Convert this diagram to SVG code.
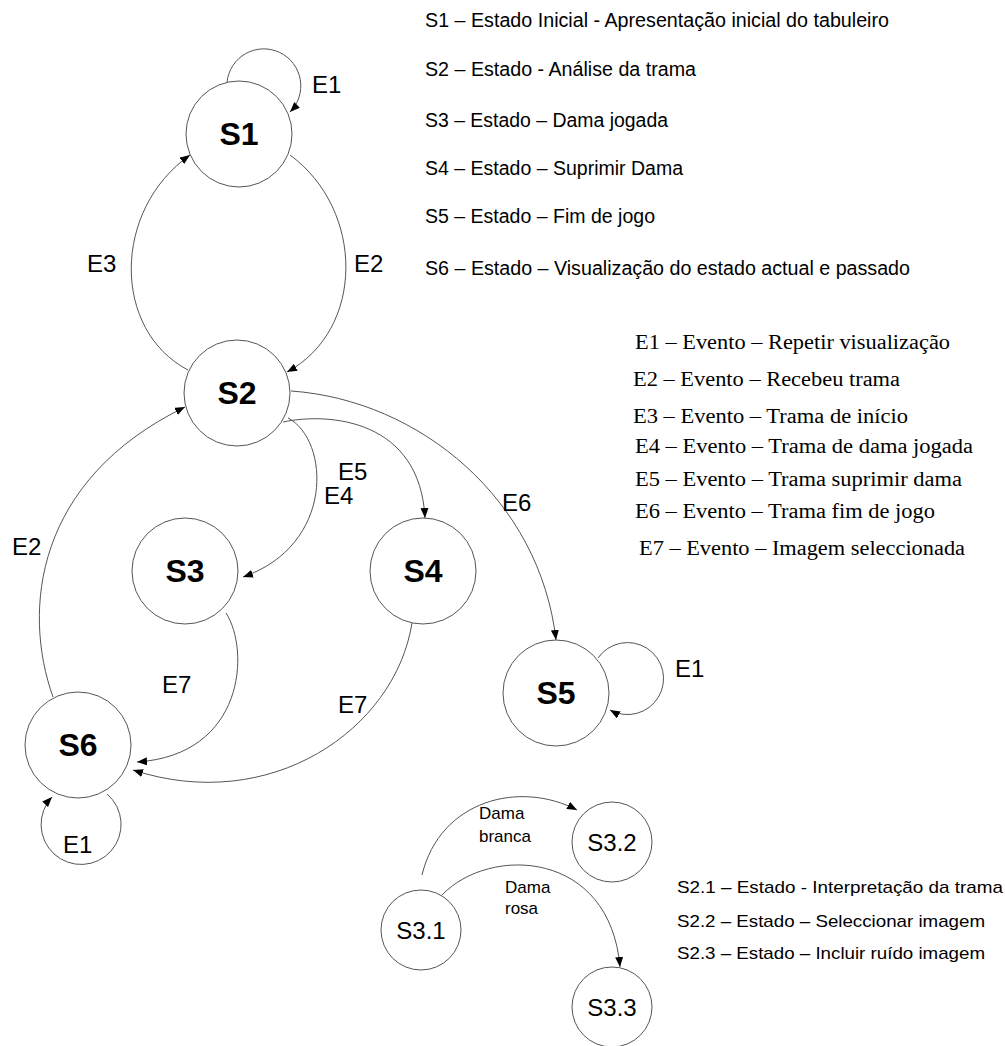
<svg xmlns="http://www.w3.org/2000/svg" width="1005" height="1046" viewBox="0 0 1005 1046">
<style>
.st{fill:#fff;stroke:#555;stroke-width:1}
.sl{font-family:"Liberation Sans",Arial,sans-serif;font-size:32px;font-weight:bold;fill:#000;text-anchor:middle}
.ss{font-family:"Liberation Sans",Arial,sans-serif;font-size:24px;fill:#000;text-anchor:middle}
.el{font-family:"Liberation Sans",Arial,sans-serif;font-size:24px;fill:#000}
.sm{font-family:"Liberation Sans",Arial,sans-serif;font-size:17px;fill:#000}
.lg{font-family:"Liberation Sans",Arial,sans-serif;font-size:19.5px;fill:#000}
.ev{font-family:"Liberation Serif","Times New Roman",serif;font-size:20px;fill:#000}
.lb{font-family:"Liberation Sans",Arial,sans-serif;font-size:17px;fill:#000}
.c{fill:none;stroke:#555;stroke-width:1;marker-end:url(#ah)}
</style>
<defs>
<marker id="ah" markerUnits="userSpaceOnUse" markerWidth="10" markerHeight="8" refX="10" refY="4" orient="auto">
<path d="M0,0 L10,4 L0,8 z" fill="#000"/>
</marker>
</defs>
<g id="connectors">
<path class="c" d="M227,82 A37,37 0 1 1 290,112"/>
<path class="c" d="M290,155 C365,210 365,330 287,372"/>
<path class="c" d="M188,370 C112,330 112,210 190,155"/>
<path class="c" d="M291,391 C420,400 540,500 556,640"/>
<path class="c" d="M283,422 C330,412 420,420 425,518"/>
<path class="c" d="M288,418 C330,440 335,545 243,577"/>
<path class="c" d="M53,697 C22,610 35,480 185,407"/>
<path class="c" d="M226,613 C250,650 245,755 137,762"/>
<path class="c" d="M412,623 C395,730 270,815 133,770"/>
<path class="c" d="M107,794 A40,40 0 1 1 52,797"/>
<path class="c" d="M598,658 A36,36 0 1 1 610,710"/>
<path class="c" d="M422,875 C440,800 520,780 577,810"/>
<path class="c" d="M442,895 C490,845 610,850 620,967"/>
<text class="el" x="312" y="93">E1</text>
<text class="el" x="354" y="272">E2</text>
<text class="el" x="87" y="272">E3</text>
<text class="el" x="338" y="480">E5</text>
<text class="el" x="324" y="504">E4</text>
<text class="el" x="502" y="511">E6</text>
<text class="el" x="12" y="555">E2</text>
<text class="el" x="162" y="693">E7</text>
<text class="el" x="338" y="713">E7</text>
<text class="el" x="675" y="677">E1</text>
<text class="el" x="63" y="853">E1</text>
<text class="sm" x="479" y="819">Dama</text>
<text class="sm" x="479" y="842">branca</text>
<text class="sm" x="505" y="893">Dama</text>
<text class="sm" x="505" y="914">rosa</text>
</g>
<g id="S1"><circle class="st" cx="239" cy="134" r="53"/><text class="sl" x="239" y="145">S1</text></g>
<g id="S2"><circle class="st" cx="237" cy="393" r="53"/><text class="sl" x="237" y="404">S2</text></g>
<g id="S3"><circle class="st" cx="185" cy="571" r="53"/><text class="sl" x="185" y="582">S3</text></g>
<g id="S4"><circle class="st" cx="423" cy="571" r="53"/><text class="sl" x="423" y="582">S4</text></g>
<g id="S5"><circle class="st" cx="556" cy="693" r="53"/><text class="sl" x="556" y="704">S5</text></g>
<g id="S6"><circle class="st" cx="78" cy="745" r="53"/><text class="sl" x="78" y="756">S6</text></g>
<g id="S3.1"><circle class="st" cx="421" cy="930" r="40"/><text class="ss" x="421" y="939">S3.1</text></g>
<g id="S3.2"><circle class="st" cx="612" cy="842" r="40"/><text class="ss" x="612" y="851">S3.2</text></g>
<g id="S3.3"><circle class="st" cx="612" cy="1007" r="40"/><text class="ss" x="612" y="1016">S3.3</text></g>
<g id="legend-states">
<text class="lg" x="425" y="27" textLength="464" lengthAdjust="spacingAndGlyphs">S1 – Estado Inicial - Apresentação inicial do tabuleiro</text>
<text class="lg" x="425" y="76" textLength="271" lengthAdjust="spacingAndGlyphs">S2 – Estado - Análise da trama</text>
<text class="lg" x="425" y="127" textLength="243" lengthAdjust="spacingAndGlyphs">S3 – Estado – Dama jogada</text>
<text class="lg" x="425" y="175" textLength="258" lengthAdjust="spacingAndGlyphs">S4 – Estado – Suprimir Dama</text>
<text class="lg" x="425" y="223" textLength="230" lengthAdjust="spacingAndGlyphs">S5 – Estado – Fim de jogo</text>
<text class="lg" x="425" y="275" textLength="485" lengthAdjust="spacingAndGlyphs">S6 – Estado – Visualização do estado actual e passado</text>
</g>
<g id="legend-events">
<text class="ev" x="635" y="349" textLength="315" lengthAdjust="spacingAndGlyphs">E1 – Evento – Repetir visualização</text>
<text class="ev" x="633" y="386" textLength="267" lengthAdjust="spacingAndGlyphs">E2 – Evento – Recebeu trama</text>
<text class="ev" x="633" y="423" textLength="275" lengthAdjust="spacingAndGlyphs">E3 – Evento – Trama de início</text>
<text class="ev" x="635" y="453" textLength="338" lengthAdjust="spacingAndGlyphs">E4 – Evento – Trama de dama jogada</text>
<text class="ev" x="635" y="486" textLength="327" lengthAdjust="spacingAndGlyphs">E5 – Evento – Trama suprimir dama</text>
<text class="ev" x="635" y="518" textLength="300" lengthAdjust="spacingAndGlyphs">E6 – Evento – Trama fim de jogo</text>
<text class="ev" x="639" y="555" textLength="326" lengthAdjust="spacingAndGlyphs">E7 – Evento – Imagem seleccionada</text>
</g>
<g id="legend-substates">
<text class="lb" x="677" y="893" textLength="326" lengthAdjust="spacingAndGlyphs">S2.1 – Estado - Interpretação da trama</text>
<text class="lb" x="677" y="927" textLength="308" lengthAdjust="spacingAndGlyphs">S2.2 – Estado – Seleccionar imagem</text>
<text class="lb" x="677" y="959" textLength="308" lengthAdjust="spacingAndGlyphs">S2.3 – Estado – Incluir ruído imagem</text>
</g>
</svg>
